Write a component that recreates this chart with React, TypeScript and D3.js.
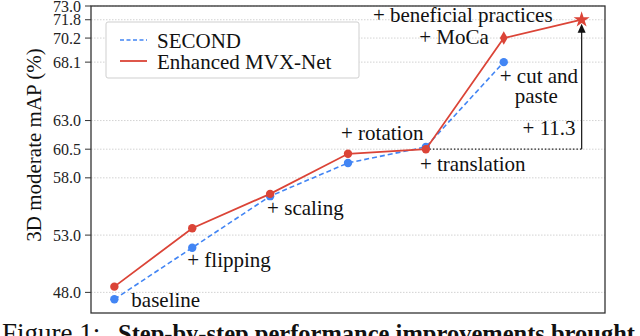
import React from "react";
import * as d3 from "d3";

const steps = ["baseline", "+ flipping", "+ scaling", "+ rotation", "+ translation", "+ cut and paste", "+ MoCa / beneficial practices"];
const secondValues = [47.4, 51.9, 56.4, 59.3, 60.7, 68.1];
const enhancedValues = [48.5, 53.6, 56.6, 60.1, 60.5, 70.2, 71.8];
const yTicks = [48.0, 53.0, 58.0, 60.5, 63.0, 68.1, 70.2, 71.8, 73.0];
const seriesNames = ["SECOND", "Enhanced MVX-Net"];
const gainLabel = "+ 11.3";
const captionLabel = "Figure 1:";
const captionBold = "Step-by-step performance improvements brought";

const W = 640, H = 336;
const BLUE = "#4285f4";
const RED = "#db4437";
const FONT = "'Liberation Serif', 'Times New Roman', serif";

export default function App() {
  const x = d3.scaleLinear().domain([-0.3, 6.3]).range([91, 605]);
  const y = d3.scaleLinear().domain([46.2, 73]).range([313, 6]);
  const line = d3.line<number>().x((_, i) => x(i)).y((d) => y(d));
  const fmt = d3.format(".1f");
  const star = d3.symbol().type(d3.symbolStar).size(80)() as string;
  const diamond = d3.symbol().type(d3.symbolDiamond).size(52)() as string;

  const xs = (i: number) => x(i);
  const lastE = enhancedValues.length - 1;
  const baseIdx = 4;

  const txt = (s: string, tx: number, ty: number, anchor = "start", size = 21) => (
    <text x={tx} y={ty} textAnchor={anchor} fontSize={size} fontFamily={FONT} fill="#111">{s}</text>
  );

  return (
    <svg width={W} height={H} style={{ position: "absolute", left: 0, top: 0, background: "#fff" }}>
      <rect x={0} y={0} width={W} height={H} fill="#fff" />
      {/* grid */}
      {yTicks.map((t) => (
        <line key={"g" + t} x1={91} x2={605} y1={y(t)} y2={y(t)} stroke="#c8c8c8" strokeWidth={0.8} strokeDasharray="1.5,1.5" />
      ))}
      {/* ticks and labels */}
      {yTicks.map((t) => (
        <g key={"t" + t}>
          <line x1={85} x2={91} y1={y(t)} y2={y(t)} stroke="#333" strokeWidth={1} />
          <text x={81} y={y(t) + 5.5} textAnchor="end" fontSize={16} fontFamily={FONT} fill="#222">{fmt(t)}</text>
        </g>
      ))}
      {/* y label */}
      <text transform={`translate(41,${145}) rotate(-90)`} textAnchor="middle" fontSize={21} fontFamily={FONT} fill="#111">3D moderate mAP (%)</text>

      {/* gain annotation */}
      <line x1={xs(baseIdx)} x2={xs(lastE)} y1={y(enhancedValues[baseIdx])} y2={y(enhancedValues[baseIdx])} stroke="#222" strokeWidth={1.3} strokeDasharray="1.5,2" />
      <line x1={xs(lastE)} x2={xs(lastE)} y1={y(enhancedValues[baseIdx])} y2={y(enhancedValues[lastE]) + 12} stroke="#222" strokeWidth={1.3} />
      <path d={`M${xs(lastE)},${y(enhancedValues[lastE]) + 4} l-4,9 l8,0 z`} fill="#111" />

      {/* series lines */}
      <path d={line(secondValues) || ""} fill="none" stroke={BLUE} strokeWidth={1.6} strokeDasharray="5,3" />
      {secondValues.map((v, i) => (
        <circle key={"b" + i} cx={xs(i)} cy={y(v)} r={4.2} fill={BLUE} />
      ))}
      <path d={line(enhancedValues) || ""} fill="none" stroke={RED} strokeWidth={1.8} />
      {enhancedValues.map((v, i) =>
        i < 5 ? (
          <circle key={"r" + i} cx={xs(i)} cy={y(v)} r={4.2} fill={RED} />
        ) : i === 5 ? (
          <path key={"r" + i} d={diamond} transform={`translate(${xs(i)},${y(v)})`} fill={RED} />
        ) : (
          <path key={"r" + i} d={star} transform={`translate(${xs(i)},${y(v)})`} fill={RED} />
        )
      )}

      {/* step annotations */}
      {txt(steps[0], xs(0) + 17, y(secondValues[0]) + 7.5)}
      {txt(steps[1], xs(1) - 5, y(secondValues[1]) + 19)}
      {txt(steps[2], xs(2) - 3, y(secondValues[2]) + 18.5)}
      {txt(steps[3], xs(3) - 7, y(enhancedValues[3]) - 14)}
      {txt(steps[4], xs(4) - 6, y(enhancedValues[4]) + 22)}
      {txt("+ cut and", xs(5) - 4, y(secondValues[5]) + 21)}
      {txt("paste", xs(5) + 11, y(secondValues[5]) + 41)}
      {txt("+ MoCa", xs(5) - 15, y(enhancedValues[5]) + 5.5, "end")}
      {txt("+ beneficial practices", xs(6) - 29, y(enhancedValues[6]) + 2, "end")}
      {txt(gainLabel, xs(lastE) - 6, 135, "end")}

      {/* frame */}
      <rect x={91} y={6} width={514} height={307} fill="none" stroke="#333" strokeWidth={1.3} />

      {/* legend */}
      <rect x={106} y={22} width={253} height={56} rx={2} fill="#fff" stroke="#cfcfcf" strokeWidth={1} />
      <line x1={120} x2={147} y1={40} y2={40} stroke={BLUE} strokeWidth={1.6} strokeDasharray="4,2.5" />
      {txt(seriesNames[0], 157, 47.5)}
      <line x1={120} x2={147} y1={61} y2={61} stroke={RED} strokeWidth={1.8} />
      {txt(seriesNames[1], 157, 68.5)}

      {/* caption */}
      <text x={2} y={341.5} fontSize={27} fontFamily={FONT} fill="#111">
        {captionLabel}
        <tspan x={118} fontWeight="bold" fontSize={24.5}>{captionBold}</tspan>
      </text>
    </svg>
  );
}
